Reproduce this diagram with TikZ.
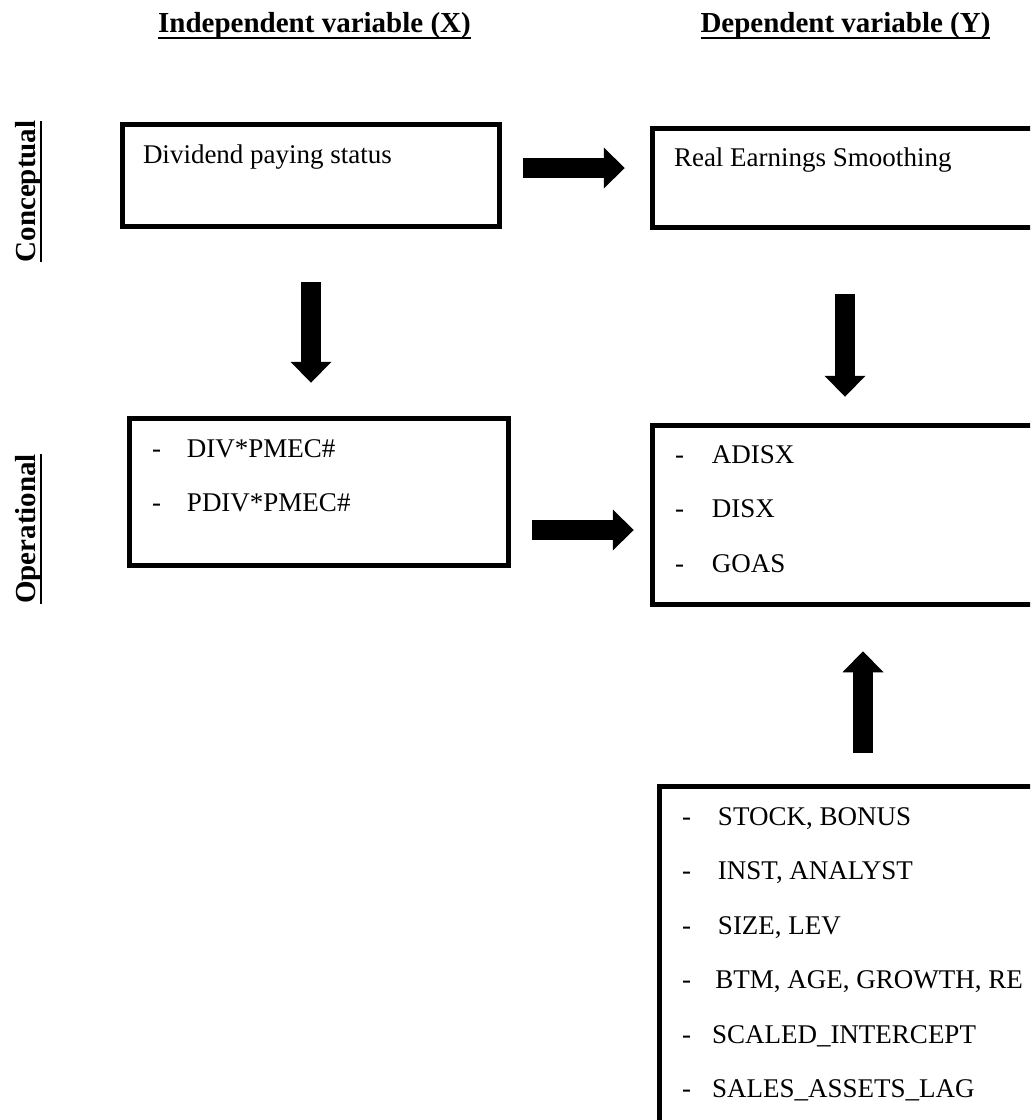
\documentclass[tikz,border=0pt]{standalone}
\usepackage{fontspec}
\setmainfont{Liberation Serif}
\usetikzlibrary{arrows.meta}
\newcommand{\dashitem}[2]{\rule{0pt}{10pt}\makebox[#1][l]{-}#2}
\newcommand{\ulword}[1]{\setbox0\hbox{#1}\rlap{\rule[-3.5pt]{\wd0}{1pt}}\box0}
\tikzset{
	panel/.style={draw, line width=2.75pt, inner sep=0pt},
	body/.style={inner sep=0pt, outer sep=0pt, align=left, font=\fontsize{13.5pt}{27.25pt}\selectfont},
	heading/.style={inner sep=0pt, outer sep=0pt, font=\fontsize{14.5pt}{17pt}\selectfont\bfseries},
	blockarrow/.style={line width=10pt, -{Triangle[length=10.5pt,width=20.5pt,line width=0pt]}}
}
\begin{document}
\begin{tikzpicture}[x=0.5pt,y=-0.5pt]
		\clip (0,0) rectangle (1030,1120);
		\node[heading, anchor=base] (indep) at (314.5,32) {\ulword{Independent variable (X)}};
		\node[heading, anchor=base] (dep) at (845.5,32) {\ulword{Dependent variable (Y)}};
		\node[heading, anchor=base, rotate=90] (concept) at (35,191.5) {\ulword{Conceptual}};
		\node[heading, anchor=base, rotate=90] (oper) at (35,529) {\ulword{Operational}};
		\node[panel, minimum width=188.5pt, minimum height=51pt] (divbox) at (311,175.5) {};
		\node[panel, minimum width=192.5pt, minimum height=49.5pt] (resbox) at (845,178) {};
		\node[panel, minimum width=189.5pt, minimum height=73.5pt] (pmecbox) at (319,492) {};
		\node[panel, minimum width=192.5pt, minimum height=89.5pt] (proxybox) at (845,515) {};
		\node[panel, minimum width=203.5pt, minimum height=175.5pt] (ctrlbox) at (863,962) {};
		\node[body, anchor=base west] (divtext) at (143,163) {Dividend paying status};
		\node[body, anchor=base west] (restext) at (674,166) {Real Earnings Smoothing};
		\node[body, anchor=north west] (pmeclist) at (152,437) {\dashitem{17.5pt}{DIV*PMEC\#}\\\dashitem{17.5pt}{PDIV*PMEC\#}};
		\node[body, anchor=north west] (proxylist) at (675,443) {\dashitem{18.5pt}{ADISX}\\\dashitem{18.5pt}{DISX}\\\dashitem{18.5pt}{GOAS}};
		\node[body, anchor=north west] (ctrllist) at (682,805) {\dashitem{18pt}{STOCK, BONUS}\\\dashitem{18pt}{INST, ANALYST}\\\dashitem{18pt}{SIZE, LEV}\\\dashitem{16.75pt}{BTM, AGE, GROWTH, RE}\\\dashitem{15pt}{SCALED\_INTERCEPT}\\\dashitem{15pt}{SALES\_ASSETS\_LAG}};
		\draw[blockarrow, shorten <=10.5pt, shorten >=12.5pt] (divbox.east |- 0,168) -- (resbox.west |- 0,168);
		\draw[blockarrow, shorten <=26.5pt, shorten >=16.5pt] (divbox.south) -- (divbox.south |- pmecbox.north);
		\draw[blockarrow, shorten <=32pt, shorten >=13pt] (resbox.south) -- (proxybox.north);
		\draw[blockarrow, shorten <=10.5pt, shorten >=8pt] (pmecbox.east |- 0,530) -- (proxybox.west |- 0,530);
		\draw[blockarrow, shorten <=15.5pt, shorten >=22pt] (ctrlbox.north) -- (ctrlbox.north |- proxybox.south);
	\end{tikzpicture}
\end{document}
